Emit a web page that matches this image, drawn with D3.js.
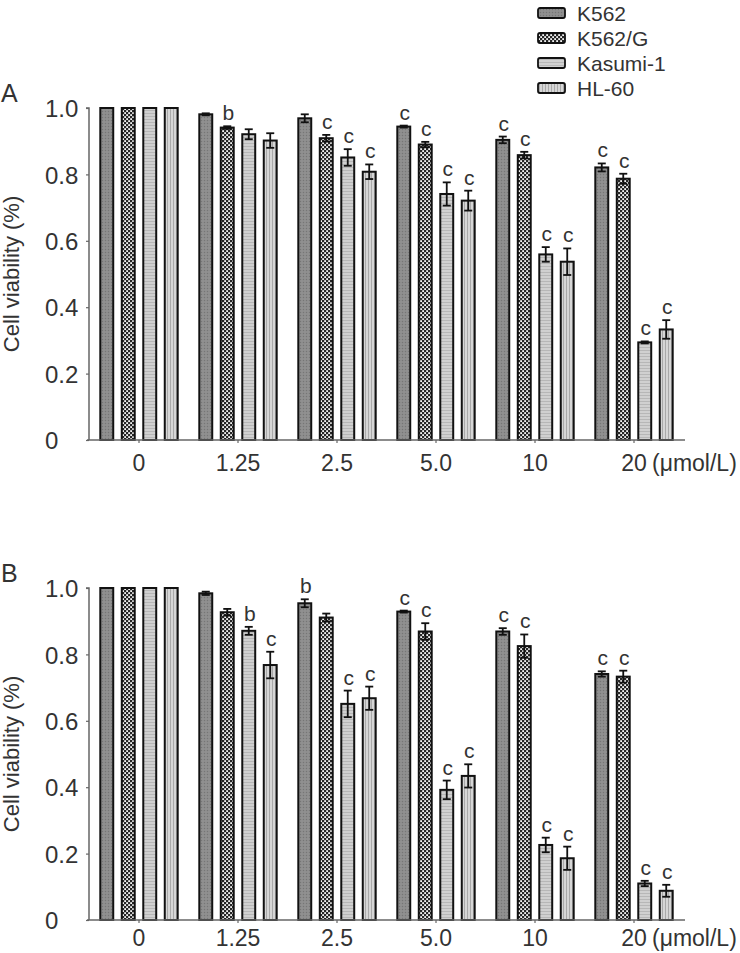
<!DOCTYPE html>
<html><head><meta charset="utf-8">
<script src="https://cdn.jsdelivr.net/npm/d3@7"></script>
<style>
body{margin:0;background:#fff;}
svg{display:block;}
text{font-family:"Liberation Sans",Arial,sans-serif;fill:#333;}
</style></head>
<body>
<script>
const categories = ["0","1.25","2.5","5.0","10","20"];
const seriesNames = ["K562","K562/G","Kasumi-1","HL-60"];
const yTicks = [0,0.2,0.4,0.6,0.8,1.0];
const unitLabel = "(μmol/L)";

// Panel A
const A_K562   = [1.0, 0.981, 0.969, 0.944, 0.904, 0.821];
const A_K562G  = [1.0, 0.941, 0.909, 0.890, 0.858, 0.787];
const A_Kasumi = [1.0, 0.921, 0.851, 0.741, 0.559, 0.294];
const A_HL60   = [1.0, 0.902, 0.808, 0.721, 0.537, 0.333];
const A_err_K562   = [0, 0.003, 0.012, 0.003, 0.010, 0.012];
const A_err_K562G  = [0, 0.004, 0.010, 0.008, 0.010, 0.015];
const A_err_Kasumi = [0, 0.015, 0.025, 0.035, 0.022, 0.003];
const A_err_HL60   = [0, 0.022, 0.022, 0.030, 0.040, 0.028];
const A_sig_K562   = ["", "", "", "c", "c", "c"];
const A_sig_K562G  = ["", "b", "c", "c", "c", "c"];
const A_sig_Kasumi = ["", "", "c", "c", "c", "c"];
const A_sig_HL60   = ["", "", "c", "c", "c", "c"];

// Panel B
const B_K562   = [1.0, 0.984, 0.954, 0.929, 0.869, 0.741];
const B_K562G  = [1.0, 0.927, 0.911, 0.869, 0.825, 0.733];
const B_Kasumi = [1.0, 0.871, 0.651, 0.392, 0.226, 0.110];
const B_HL60   = [1.0, 0.768, 0.668, 0.434, 0.186, 0.088];
const B_err_K562   = [0, 0.005, 0.012, 0.003, 0.010, 0.008];
const B_err_K562G  = [0, 0.010, 0.012, 0.025, 0.035, 0.018];
const B_err_Kasumi = [0, 0.012, 0.040, 0.028, 0.022, 0.008];
const B_err_HL60   = [0, 0.040, 0.035, 0.035, 0.035, 0.018];
const B_sig_K562   = ["", "", "b", "c", "c", "c"];
const B_sig_K562G  = ["", "", "", "c", "c", "c"];
const B_sig_Kasumi = ["", "b", "c", "c", "c", "c"];
const B_sig_HL60   = ["", "c", "c", "c", "c", "c"];

const panels = [
  {label:"A", top:108, xLab:31, vals:[A_K562,A_K562G,A_Kasumi,A_HL60], errs:[A_err_K562,A_err_K562G,A_err_Kasumi,A_err_HL60], sigs:[A_sig_K562,A_sig_K562G,A_sig_Kasumi,A_sig_HL60]},
  {label:"B", top:588, xLab:26, vals:[B_K562,B_K562G,B_Kasumi,B_HL60], errs:[B_err_K562,B_err_K562G,B_err_Kasumi,B_err_HL60], sigs:[B_sig_K562,B_sig_K562G,B_sig_Kasumi,B_sig_HL60]}
];

const W = 740, H = 953;
const svg = d3.select("body").append("svg").attr("width", W).attr("height", H);
const defs = svg.append("defs");

const p0 = defs.append("pattern").attr("id","pK562").attr("patternUnits","userSpaceOnUse").attr("width",3).attr("height",3);
p0.append("rect").attr("width",3).attr("height",3).attr("fill","#8c8c8c");
p0.append("rect").attr("width",1).attr("height",1).attr("fill","#767676");
p0.append("rect").attr("x",1.5).attr("y",1.5).attr("width",1).attr("height",1).attr("fill","#9c9c9c");

const p1 = defs.append("pattern").attr("id","pK562G").attr("patternUnits","userSpaceOnUse").attr("width",4).attr("height",4);
p1.append("rect").attr("width",4).attr("height",4).attr("fill","#262626");
p1.append("rect").attr("x",0.2).attr("y",0.2).attr("width",1.8).attr("height",1.8).attr("fill","#f4f4f4");
p1.append("rect").attr("x",2.2).attr("y",2.2).attr("width",1.8).attr("height",1.8).attr("fill","#f4f4f4");

const p2 = defs.append("pattern").attr("id","pKasumi").attr("patternUnits","userSpaceOnUse").attr("width",3).attr("height",3);
p2.append("rect").attr("width",3).attr("height",3).attr("fill","#d0d0d0");
p2.append("rect").attr("y",2).attr("width",3).attr("height",1).attr("fill","#b7b7b7");

const p3 = defs.append("pattern").attr("id","pHL60").attr("patternUnits","userSpaceOnUse").attr("width",3).attr("height",3);
p3.append("rect").attr("width",3).attr("height",3).attr("fill","#d6d6d6");
p3.append("rect").attr("x",2).attr("width",1).attr("height",3).attr("fill","#a9a9a9");

const fills = ["url(#pK562)","url(#pK562G)","url(#pKasumi)","url(#pHL60)"];

const x0 = d3.scaleBand().domain(categories).range([89.5, 683.5]).paddingInner(0).paddingOuter(0);
const x1 = d3.scaleBand().domain(seriesNames).range([0, x0.bandwidth()]).paddingInner(0.305).paddingOuter(0.456);

panels.forEach(p => {
  const y = d3.scaleLinear().domain([0,1]).range([p.top + 332, p.top]);
  const g = svg.append("g");

  g.append("text").attr("x", 1).attr("y", p.top - 6).attr("font-size", 25).attr("fill","#222").text(p.label);

  const midY = (y(0) + y(1)) / 2;
  g.append("text")
    .attr("transform", `translate(19,${midY}) rotate(-90)`)
    .attr("text-anchor","middle")
    .attr("font-size", 22)
    .text("Cell viability (%)");

  seriesNames.forEach((s, si) => {
    const data = categories.map((c, ci) => ({c, v:p.vals[si][ci], e:p.errs[si][ci], sig:p.sigs[si][ci]}));
    const sg = g.append("g");
    sg.selectAll("rect.bar").data(data).enter().append("rect")
      .attr("class","bar")
      .attr("x", d => x0(d.c) + x1(s) + 1)
      .attr("y", d => y(d.v))
      .attr("width", x1.bandwidth() - 2)
      .attr("height", d => y(0) - y(d.v))
      .attr("fill", fills[si])
      .attr("stroke", "#111")
      .attr("stroke-width", 2);
    const eb = data.filter(d => d.e > 0);
    const cx = d => x0(d.c) + x1(s) + x1.bandwidth()/2;
    sg.selectAll("line.ev").data(eb).enter().append("line")
      .attr("x1", cx).attr("x2", cx)
      .attr("y1", d => y(d.v + d.e)).attr("y2", d => y(d.v - d.e))
      .attr("stroke","#111").attr("stroke-width",1.8);
    sg.selectAll("line.et").data(eb).enter().append("line")
      .attr("x1", d => cx(d) - 4).attr("x2", d => cx(d) + 4)
      .attr("y1", d => y(d.v + d.e)).attr("y2", d => y(d.v + d.e))
      .attr("stroke","#111").attr("stroke-width",1.8);
    sg.selectAll("line.eb").data(eb).enter().append("line")
      .attr("x1", d => cx(d) - 4).attr("x2", d => cx(d) + 4)
      .attr("y1", d => y(d.v - d.e)).attr("y2", d => y(d.v - d.e))
      .attr("stroke","#111").attr("stroke-width",1.8);
    sg.selectAll("text.sig").data(data.filter(d => d.sig)).enter().append("text")
      .attr("x", d => cx(d) + 1)
      .attr("y", d => y(d.v + d.e) - 6)
      .attr("text-anchor","middle")
      .attr("font-size", 21)
      .text(d => d.sig);
  });

  const ya = g.append("g").attr("transform","translate(89,0)")
    .call(d3.axisLeft(y).tickValues(yTicks).tickSize(3).tickFormat(d => d === 0 ? "0" : d3.format(".1f")(d)));
  ya.select(".domain").attr("stroke","#666").attr("stroke-width",1.5).attr("d", `M-3,${y(1)}H0V${y(0)}`);
  ya.selectAll(".tick line").attr("stroke","#666").attr("stroke-width",1.2);
  ya.selectAll(".tick text").attr("x", -44).attr("text-anchor","start").attr("font-size", 24)
    .attr("font-family","Liberation Sans, Arial, sans-serif").attr("fill","#333").attr("dy","0.36em");

  const xa = g.append("g").attr("transform",`translate(0,${y(0)})`)
    .call(d3.axisBottom(x0).tickSize(3).tickSizeOuter(0));
  xa.select(".domain").attr("stroke","#666").attr("stroke-width",1.5).attr("d","M87,0H685");
  xa.selectAll(".tick line").attr("stroke","#666").attr("stroke-width",1.2);
  xa.selectAll(".tick text").attr("y", p.xLab).attr("dy", 0).attr("font-size", 23)
    .attr("font-family","Liberation Sans, Arial, sans-serif").attr("fill","#333");
  g.append("text").attr("x", x0("20") + x0.bandwidth()/2 + 18).attr("y", y(0) + p.xLab)
    .attr("font-size", 23).text(unitLabel);
});

const lg = svg.append("g");
seriesNames.forEach((s, i) => {
  const ly = 13 + i * 25;
  lg.append("rect").attr("x", 538).attr("y", ly - 5).attr("width", 27).attr("height", 10)
    .attr("rx", 2).attr("fill", fills[i]).attr("stroke","#111").attr("stroke-width",1.8);
  lg.append("text").attr("x", 577).attr("y", ly).attr("dy","0.36em").attr("font-size", 21).text(s);
});
</script>
</body></html>
